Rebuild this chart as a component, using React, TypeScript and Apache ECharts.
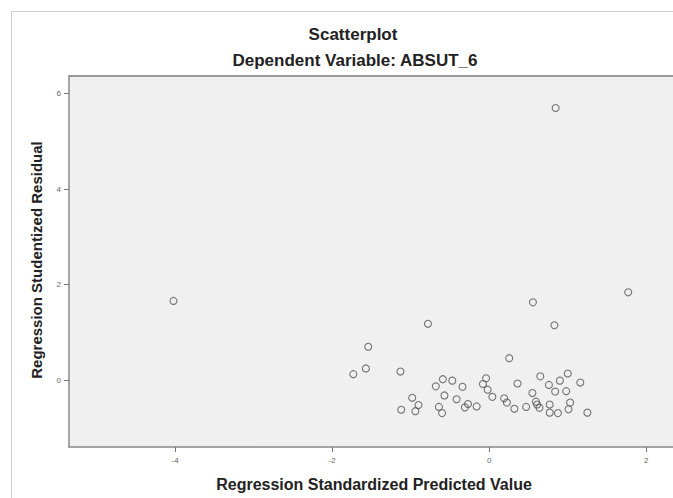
import React, { useEffect, useRef } from "react";
import * as echarts from "echarts";

const predictedValues: number[] = [
  1.77, 0.557, 0.83, -0.78, -1.54, 0.255, -1.57, -1.73, -1.13, -0.59,
  -0.47, -0.68, -0.34, -0.04, -0.08, -0.02, 0.04, -0.57, -0.415, -0.98,
  -0.9, -1.12, -0.94, -0.64, -0.6, -0.31, -0.27, -0.16, 0.19, 0.225,
  0.32, 0.36, 0.47, 0.55, 0.595, 0.61, 0.64, 0.65, 0.76, 0.77,
  0.77, 0.84, 0.9, 0.875, 0.98, 1.0, 1.03, 1.01, 1.16, 1.25,
  -4.02, 0.846,
];
const studentizedResiduals: number[] = [
  1.84, 1.63, 1.15, 1.18, 0.7, 0.46, 0.245, 0.126, 0.18, 0.02,
  -0.01, -0.13, -0.14, 0.04, -0.08, -0.2, -0.35, -0.32, -0.4, -0.37,
  -0.52, -0.62, -0.65, -0.56, -0.69, -0.57, -0.5, -0.55, -0.38, -0.47,
  -0.6, -0.07, -0.56, -0.27, -0.45, -0.51, -0.58, 0.08, -0.1, -0.51,
  -0.68, -0.24, -0.01, -0.69, -0.23, 0.14, -0.47, -0.61, -0.05, -0.68,
  1.66, 5.7,
];
const xTicks: number[] = [-4, -2, 0, 2];
const yTicks: number[] = [0, 2, 4, 6];

export default function App() {
  const ref = useRef<HTMLDivElement>(null);
  useEffect(() => {
    document.body.style.margin = "0";
    if (!ref.current) return;
    const chart = echarts.init(ref.current, null, { renderer: "svg" });
    const data = predictedValues.map((x, i) => [x, studentizedResiduals[i]]);
    const font = "'Liberation Sans', Arial, sans-serif";
    const titleStyle = { fontFamily: font, fontSize: 17, fontWeight: "bold", color: "#222" };
    chart.setOption({
      animation: false,
      backgroundColor: "#ffffff",
      title: [
        {
          text: "Scatterplot",
          left: 348,
          top: 21,
          textAlign: "center",
          textStyle: titleStyle,
        },
        {
          text: "Dependent Variable: ABSUT_6",
          left: 350,
          top: 47,
          textAlign: "center",
          textStyle: titleStyle,
        },
      ],
      graphic: [
        {
          type: "polyline",
          shape: { points: [[11.5, 498], [11.5, 11.5], [680, 11.5]] },
          style: { fill: "none", stroke: "#d0d0d0", lineWidth: 1 },
          silent: true,
          z: -10,
        },
        {
          type: "text",
          x: 374,
          y: 484,
          style: {
            text: "Regression Standardized Predicted Value",
            fontFamily: font,
            fontSize: 16,
            fontWeight: "bold",
            fill: "#222",
            align: "center",
            verticalAlign: "middle",
          },
        },
        {
          type: "text",
          x: 36,
          y: 260,
          rotation: Math.PI / 2,
          style: {
            text: "Regression Studentized Residual",
            fontFamily: font,
            fontSize: 15,
            fontWeight: "bold",
            fill: "#222",
            align: "center",
            verticalAlign: "middle",
          },
        },
      ],
      grid: {
        left: 69,
        top: 76,
        bottom: 51,
        right: 0,
        show: true,
        backgroundColor: "#f0f0f0",
        borderWidth: 0,
      },
      xAxis: [
        {
          type: "value",
          position: "bottom",
          min: -5.35,
          max: 2.34,
          splitLine: { show: false },
          axisLine: { show: true, onZero: false, lineStyle: { color: "#888", width: 1.5 } },
          axisTick: { show: true, length: 5, customValues: xTicks, lineStyle: { color: "#777" } },
          axisLabel: {
            customValues: xTicks,
            margin: 9,
            fontFamily: font,
            fontSize: 8,
            color: "#666",
          },
        },
        {
          type: "value",
          position: "top",
          min: -5.35,
          max: 2.34,
          splitLine: { show: false },
          axisLine: { show: true, onZero: false, lineStyle: { color: "#999", width: 2 } },
          axisTick: { show: false },
          axisLabel: { show: false },
        },
      ],
      yAxis: {
        type: "value",
        min: -1.4,
        max: 6.37,
        splitLine: { show: false },
        axisLine: { show: true, onZero: false, lineStyle: { color: "#888", width: 1.5 } },
        axisTick: { show: true, length: 5, customValues: yTicks, lineStyle: { color: "#777" } },
        axisLabel: {
          customValues: yTicks,
          margin: 8,
          fontFamily: font,
          fontSize: 8,
          color: "#666",
        },
      },
      series: [
        {
          type: "scatter",
          xAxisIndex: 0,
          data,
          symbol: "circle",
          symbolSize: 7,
          itemStyle: { color: "rgba(0,0,0,0)", borderColor: "#555", borderWidth: 1.1 },
          emphasis: { disabled: true },
        },
      ],
    });
    return () => chart.dispose();
  }, []);
  return <div ref={ref} style={{ width: 673, height: 498 }} />;
}
